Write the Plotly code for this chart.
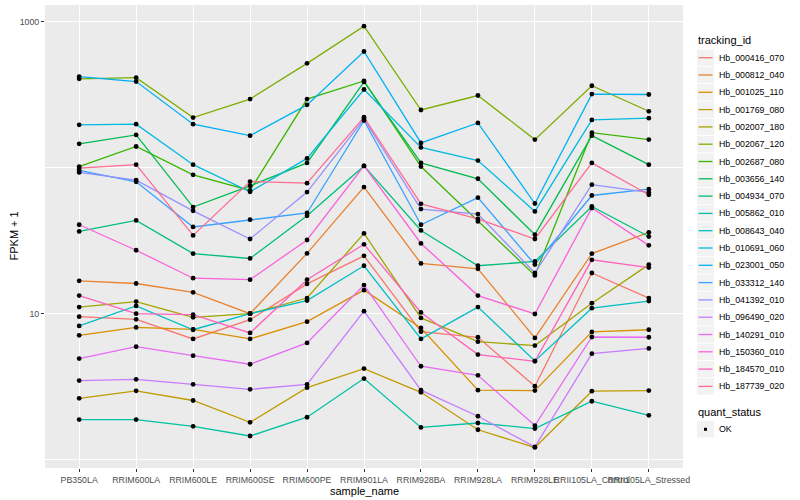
import plotly.graph_objects as go

samples = ["PB350LA", "RRIM600LA", "RRIM600LE", "RRIM600SE", "RRIM600PE", "RRIM901LA",
           "RRIM928BA", "RRIM928LA", "RRIM928LE", "RRII105LA_Control", "RRII105LA_Stressed"]

tracking_ids = ["Hb_000416_070", "Hb_000812_040", "Hb_001025_110", "Hb_001769_080",
                "Hb_002007_180", "Hb_002067_120", "Hb_002687_080", "Hb_003656_140",
                "Hb_004934_070", "Hb_005862_010", "Hb_008643_040", "Hb_010691_060",
                "Hb_023001_050", "Hb_033312_140", "Hb_041392_010", "Hb_096490_020",
                "Hb_140291_010", "Hb_150360_010", "Hb_184570_010", "Hb_187739_020"]

# FPKM + 1 values, one list per gene, in sample order
hb_000416_070 = [9.53, 9.14, 6.71, 9.10, 16.0, 24.9, 7.53, 6.89, 3.18, 19.0, 12.8]
hb_000812_040 = [16.8, 16.1, 14.0, 10.0, 25.9, 73.8, 22.1, 20.3, 6.82, 25.8, 36.1]
hb_001025_110 = [7.10, 8.05, 7.80, 6.71, 8.81, 14.5, 7.98, 2.99, 2.97, 7.50, 7.76]
hb_001769_080 = [2.63, 2.96, 2.54, 1.80, 3.11, 4.20, 2.89, 1.60, 1.21, 2.94, 2.97]
hb_002007_180 = [11.1, 12.1, 9.44, 10.0, 12.8, 35.5, 9.35, 6.43, 6.04, 11.8, 21.7]
hb_002067_120 = [407, 415, 221, 296, 520, 935, 249, 313, 156, 365, 244]
hb_002687_080 = [102, 140, 89.5, 70.0, 296, 394, 102, 42.9, 18.3, 174, 156]
hb_003656_140 = [146, 168, 53.8, 75.3, 108, 388, 108, 84.1, 34.8, 166, 105]
hb_004934_070 = [36.6, 43.6, 25.8, 23.9, 46.9, 103, 37.2, 21.3, 22.8, 54.3, 33.8]
hb_005862_010 = [1.88, 1.88, 1.69, 1.45, 1.95, 3.59, 1.66, 1.78, 1.63, 2.51, 2.01]
hb_008643_040 = [8.24, 11.3, 7.76, 10.0, 12.3, 21.3, 6.71, 11.1, 4.74, 10.9, 12.2]
hb_010691_060 = [197, 199, 105, 68.5, 116, 344, 138, 112, 50.2, 213, 219]
hb_023001_050 = [422, 390, 199, 166, 270, 627, 148, 203, 56.9, 320, 318]
hb_033312_140 = [95.9, 80.2, 39.3, 44.1, 49.0, 211, 40.7, 62.4, 21.7, 64.6, 71.4]
hb_041392_010 = [92.9, 82.4, 50.7, 32.5, 68.2, 216, 52.1, 48.2, 19.0, 76.6, 67.8]
hb_096490_020 = [3.48, 3.55, 3.28, 3.03, 3.27, 10.4, 2.99, 1.98, 1.22, 5.32, 5.78]
hb_140291_010 = [4.92, 5.94, 5.15, 4.50, 6.30, 15.7, 4.36, 3.78, 1.71, 6.92, 6.89]
hb_150360_010 = [40.7, 27.2, 17.5, 17.1, 32.0, 103, 30.3, 13.3, 9.95, 53.0, 29.4]
hb_184570_010 = [13.3, 10.0, 9.84, 7.38, 17.1, 29.9, 10.2, 5.24, 4.71, 23.4, 20.7]
hb_187739_020 = [99.5, 105, 34.4, 80.5, 78.5, 222, 56.6, 44.6, 32.5, 108, 65.3]

series_values = [hb_000416_070, hb_000812_040, hb_001025_110, hb_001769_080, hb_002007_180,
                 hb_002067_120, hb_002687_080, hb_003656_140, hb_004934_070, hb_005862_010,
                 hb_008643_040, hb_010691_060, hb_023001_050, hb_033312_140, hb_041392_010,
                 hb_096490_020, hb_140291_010, hb_150360_010, hb_184570_010, hb_187739_020]

colors = ["#F8766D", "#EA8331", "#D89000", "#C09B00", "#A3A500", "#7CAE00", "#39B600",
          "#00BB4E", "#00BF7D", "#00C1A3", "#00BFC4", "#00BAE0", "#00B0F6", "#35A2FF",
          "#9590FF", "#C77CFF", "#E76BF3", "#FA62DB", "#FF62BC", "#FF6C91"]

quant_status = "OK"

FONT = "Liberation Sans, Arial, Helvetica, sans-serif"
W, H = 800, 500
PL, PR, PT, PB = 45, 683, 5, 468  # panel box in pixels


def px_x(px):
    return (px - PL) / (PR - PL)


def px_y(py):
    return (PB - py) / (PB - PT)


fig = go.Figure()

for name, vals, col in zip(tracking_ids, series_values, colors):
    fig.add_trace(go.Scatter(x=samples, y=vals, mode="lines", name=name,
                             line=dict(color=col, width=1.3), showlegend=False,
                             hoverinfo="skip"))

all_x, all_y = [], []
for vals in series_values:
    all_x.extend(samples)
    all_y.extend(vals)
fig.add_trace(go.Scatter(x=all_x, y=all_y, mode="markers", name=quant_status,
                         marker=dict(color="black", size=4.8), showlegend=False))

# ---- custom ggplot-like legend ----
shapes = []
annotations = []
annotations.append(dict(text="tracking_id", x=px_x(696), y=px_y(40.5), xref="paper", yref="paper",
                        xanchor="left", yanchor="middle", showarrow=False,
                        font=dict(size=11, color="black", family=FONT)))
step = 17.3
for i, (name, col) in enumerate(zip(tracking_ids, colors)):
    cy = 57.7 + step * i
    shapes.append(dict(type="rect", xref="paper", yref="paper",
                       x0=px_x(697), x1=px_x(714), y0=px_y(cy - 8.2), y1=px_y(cy + 8.2),
                       fillcolor="#F2F2F2", line=dict(width=0), layer="above"))
    shapes.append(dict(type="line", xref="paper", yref="paper",
                       x0=px_x(698.5), x1=px_x(712.5), y0=px_y(cy), y1=px_y(cy),
                       line=dict(color=col, width=1.3), layer="above"))
    annotations.append(dict(text=name, x=px_x(716.5), y=px_y(cy), xref="paper", yref="paper",
                            xanchor="left", yanchor="middle", showarrow=False,
                            font=dict(size=8.8, color="black", family=FONT)))

annotations.append(dict(text="quant_status", x=px_x(696), y=px_y(412.3), xref="paper", yref="paper",
                        xanchor="left", yanchor="middle", showarrow=False,
                        font=dict(size=11, color="black", family=FONT)))
cy = 429.3
shapes.append(dict(type="rect", xref="paper", yref="paper",
                   x0=px_x(697), x1=px_x(714), y0=px_y(cy - 8.2), y1=px_y(cy + 8.2),
                   fillcolor="#F2F2F2", line=dict(width=0), layer="above"))
shapes.append(dict(type="rect", xref="paper", yref="paper",
                   x0=px_x(704), x1=px_x(707), y0=px_y(cy - 1.5), y1=px_y(cy + 1.5),
                   fillcolor="black", line=dict(width=0), layer="above"))
annotations.append(dict(text=quant_status, x=px_x(716.5), y=px_y(cy), xref="paper", yref="paper",
                        xanchor="left", yanchor="middle", showarrow=False,
                        font=dict(size=8.8, color="black", family=FONT)))

# axis titles placed like ggplot's
annotations.append(dict(text="sample_name", x=px_x(364), y=px_y(491), xref="paper", yref="paper",
                        xanchor="center", yanchor="middle", showarrow=False,
                        font=dict(size=11, color="black", family=FONT)))
annotations.append(dict(text="FPKM + 1", x=px_x(13), y=px_y(236.5), xref="paper", yref="paper",
                        xanchor="center", yanchor="middle", showarrow=False, textangle=-90,
                        font=dict(size=11, color="black", family=FONT)))

fig.update_layout(
    width=W, height=H,
    margin=dict(l=PL, r=W - PR, t=PT, b=H - PB, pad=0),
    plot_bgcolor="#EBEBEB", paper_bgcolor="white",
    font=dict(family=FONT),
    showlegend=False,
    shapes=shapes,
    annotations=annotations,
)

fig.update_xaxes(
    type="category", categoryorder="array", categoryarray=samples,
    range=[-0.6, len(samples) - 0.4],
    showgrid=True, gridcolor="white", gridwidth=1.4,
    zeroline=False, showline=False,
    ticks="outside", ticklen=3, tickwidth=1, tickcolor="#333333",
    tickangle=0, tickfont=dict(size=8.8, color="#4D4D4D", family=FONT),
    automargin=False,
)

fig.update_yaxes(
    type="log", range=[-0.058, 3.116],
    tickmode="array", tickvals=[10, 1000], ticktext=["10", "1000"],
    showgrid=True, gridcolor="white", gridwidth=1.4,
    minor=dict(tickmode="array", tickvals=[1, 100], showgrid=True, gridcolor="white",
               gridwidth=0.7, ticks=""),
    zeroline=False, showline=False,
    ticks="outside", ticklen=3, tickwidth=1, tickcolor="#333333",
    tickfont=dict(size=8.8, color="#4D4D4D", family=FONT),
    automargin=False,
)

fig.write_html("out.html", include_plotlyjs=True, full_html=True,
               config={"displayModeBar": False},
               post_script="document.body.style.margin='0';")
